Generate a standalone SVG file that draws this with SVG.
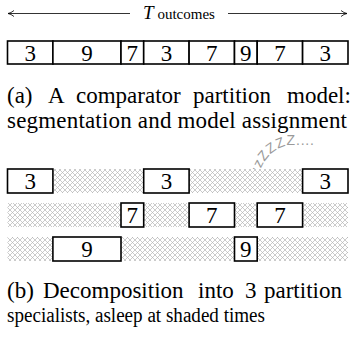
<svg xmlns="http://www.w3.org/2000/svg" width="356" height="347" viewBox="0 0 356 347">
<style>
.box{fill:#fff;stroke:#000;stroke-width:1.6}
.num{font-family:'Liberation Serif','Times New Roman',serif;font-size:23px;text-anchor:middle;fill:#000}
.cap{font-family:'Liberation Serif','Times New Roman',serif;font-size:23px;fill:#000}
.hatch{fill:url(#xh)}
.arr{stroke:#000;stroke-width:0.8;fill:none}
</style>
<defs>
<pattern id="xh" width="5" height="5" patternUnits="userSpaceOnUse">
<rect width="5" height="5" fill="#fff"/>
<path d="M0 0L5 5M5 0L0 5" stroke="#b4b4b4" stroke-width="0.7"/>
</pattern>
<marker id="ah" viewBox="0 0 8 8" refX="7" refY="4" markerWidth="8" markerHeight="8" orient="auto-start-reverse" markerUnits="userSpaceOnUse">
<path d="M1 1Q4 3.5 7 4Q4 4.5 1 7" fill="none" stroke="#000" stroke-width="0.8"/>
</marker>
</defs>
<g id="connectors">
<line class="arr" x1="8" y1="13.5" x2="130" y2="13.5" marker-start="url(#ah)"/>
<line class="arr" x1="228" y1="13.5" x2="347" y2="13.5" marker-end="url(#ah)"/>
</g>
<g id="title">
<text x="179" y="19" font-family="'Liberation Serif','Times New Roman',serif" text-anchor="middle" fill="#000"><tspan font-style="italic" font-size="19">T</tspan><tspan font-size="15"> outcomes</tspan></text>
</g>
<g id="segmentation">
<rect class="box" x="7.5" y="41" width="45.4" height="23"/><text class="num" x="30.2" y="60.5">3</text>
<rect class="box" x="52.9" y="41" width="68.1" height="23"/><text class="num" x="87" y="60.5">9</text>
<rect class="box" x="121" y="41" width="22.7" height="23"/><text class="num" x="132.3" y="60.5">7</text>
<rect class="box" x="143.7" y="41" width="45.4" height="23"/><text class="num" x="166.4" y="60.5">3</text>
<rect class="box" x="189.1" y="41" width="45.4" height="23"/><text class="num" x="211.8" y="60.5">7</text>
<rect class="box" x="234.5" y="41" width="22.7" height="23"/><text class="num" x="245.8" y="60.5">9</text>
<rect class="box" x="257.2" y="41" width="45.4" height="23"/><text class="num" x="279.9" y="60.5">7</text>
<rect class="box" x="302.6" y="41" width="45.4" height="23"/><text class="num" x="325.3" y="60.5">3</text>
</g>
<g id="caption-a" class="cap">
<text x="7" y="103">(a)</text>
<text x="48" y="103">A</text>
<text x="76" y="103">comparator</text>
<text x="193" y="103">partition</text>
<text x="287" y="103">model:</text>
<text x="7" y="128" textLength="340" lengthAdjust="spacing">segmentation and model assignment</text>
</g>
<g id="sleep">
<path id="zp" d="M257 184Q262 150 290 145L340 145" fill="none"/>
<text font-family="'Liberation Sans',Arial,sans-serif" font-size="14" letter-spacing="0.8" fill="#9a9a9a"><textPath href="#zp">zzzZZZZ....</textPath></text>
</g>
<g id="specialist-3">
<rect class="hatch" x="52.9" y="169" width="90.8" height="24"/>
<rect class="hatch" x="189.1" y="169" width="113.5" height="24"/>
<rect class="box" x="7.5" y="169" width="45.4" height="24"/><text class="num" x="30.2" y="189">3</text>
<rect class="box" x="143.7" y="169" width="45.4" height="24"/><text class="num" x="166.4" y="189">3</text>
<rect class="box" x="302.6" y="169" width="45.4" height="24"/><text class="num" x="325.3" y="189">3</text>
</g>
<g id="specialist-7">
<rect class="hatch" x="7.5" y="203" width="113.5" height="24"/>
<rect class="hatch" x="143.7" y="203" width="45.4" height="24"/>
<rect class="hatch" x="234.5" y="203" width="22.7" height="24"/>
<rect class="hatch" x="302.6" y="203" width="45.4" height="24"/>
<rect class="box" x="121" y="203" width="22.7" height="24"/><text class="num" x="132.3" y="223">7</text>
<rect class="box" x="189.1" y="203" width="45.4" height="24"/><text class="num" x="211.8" y="223">7</text>
<rect class="box" x="257.2" y="203" width="45.4" height="24"/><text class="num" x="279.9" y="223">7</text>
</g>
<g id="specialist-9">
<rect class="hatch" x="7.5" y="237" width="45.4" height="24"/>
<rect class="hatch" x="121" y="237" width="113.5" height="24"/>
<rect class="hatch" x="257.2" y="237" width="90.8" height="24"/>
<rect class="box" x="52.9" y="237" width="68.1" height="24"/><text class="num" x="87" y="257">9</text>
<rect class="box" x="234.5" y="237" width="22.7" height="24"/><text class="num" x="245.8" y="257">9</text>
</g>
<g id="caption-b" class="cap">
<text x="7" y="298">(b)</text>
<text x="43" y="298">Decomposition</text>
<text x="198" y="298">into</text>
<text x="245" y="298">3</text>
<text x="264" y="298">partition</text>
<text x="7" y="322" font-size="20" textLength="258" lengthAdjust="spacingAndGlyphs">specialists, asleep at shaded times</text>
</g>
</svg>
